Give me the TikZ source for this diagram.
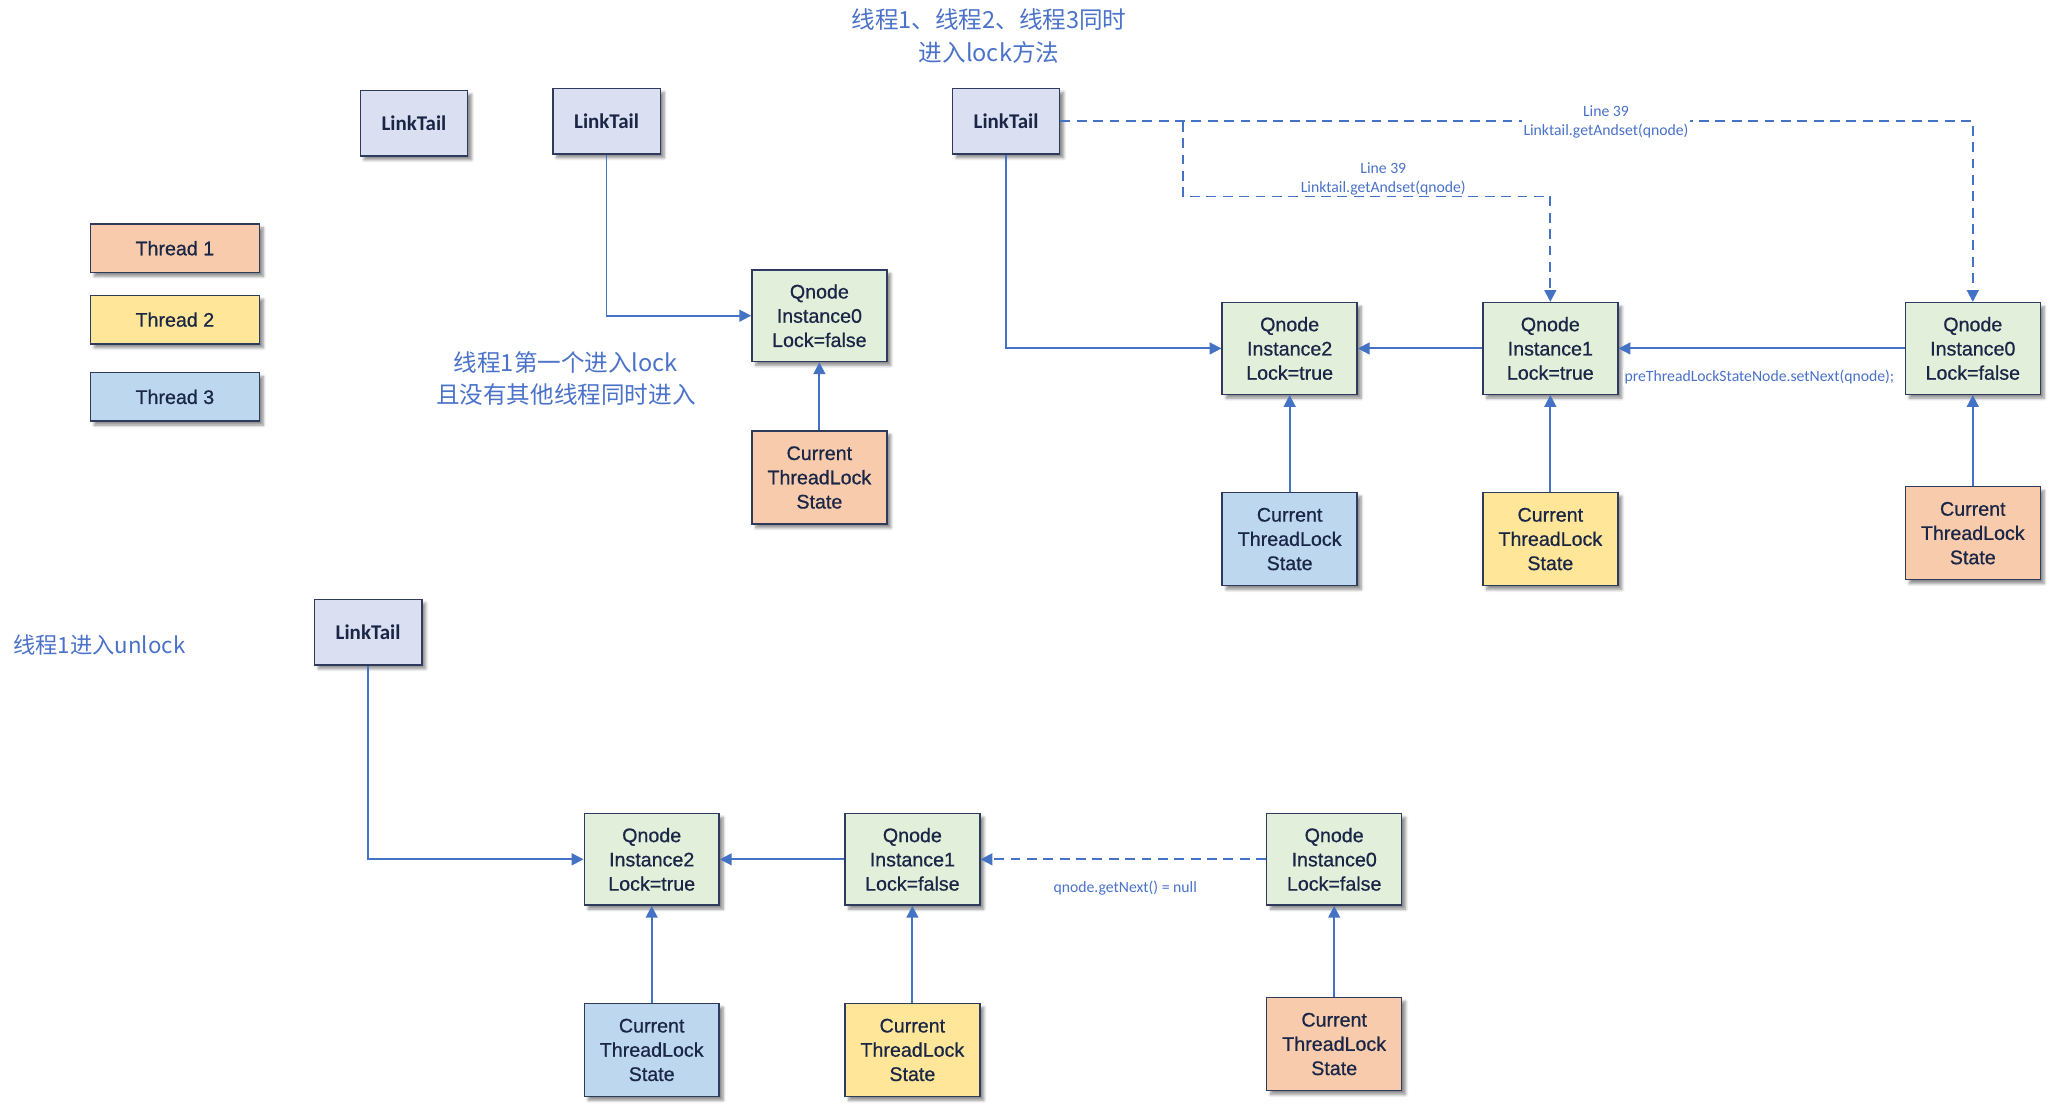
\documentclass[tikz,border=0pt]{standalone}
\usepackage{fontspec}
\setmainfont{Liberation Sans}
\newfontfamily\boxfont{Liberation Sans}[FakeBold=0.7]
\newfontfamily\calfont{Carlito}
\newfontfamily\cjk{Noto Sans CJK SC}
\usetikzlibrary{arrows.meta,shadows.blur}
\definecolor{bordc}{HTML}{2F3B5E}
\definecolor{txtc}{HTML}{1A2646}
\definecolor{arrc}{HTML}{4472C4}
\definecolor{lblc}{HTML}{4A72C9}
\definecolor{ltfill}{HTML}{DAE0F2}
\definecolor{orfill}{HTML}{F8CBAD}
\definecolor{yefill}{HTML}{FFE699}
\definecolor{blfill}{HTML}{BDD7EE}
\definecolor{grfill}{HTML}{E2EFDA}
\tikzset{
  box/.style={draw=bordc, line width=1.1pt, text=txtc, align=center, inner sep=0pt,
    font=\boxfont\fontsize{15}{18.5}\selectfont,
    blur shadow={shadow xshift=3pt, shadow yshift=-3pt, shadow blur steps=6, shadow opacity=45}},
  qbox/.style={box, fill=grfill, minimum width=103pt, minimum height=70pt},
  cbox/.style={box, minimum width=103pt, minimum height=71pt},
  ltbox/.style={box, fill=ltfill, minimum width=82pt, minimum height=50pt, font=\calfont\bfseries\fontsize{16}{18}\selectfont},
  thbox/.style={box, minimum width=129pt, minimum height=37pt},
  arr/.style={draw=arrc, line width=1.5pt, -{Triangle[length=9pt,width=9pt]}},
  dsh/.style={arr, dash pattern=on 7.5pt off 5pt},
  cjklbl/.style={text=lblc, font=\cjk\fontsize{18}{24.5}\selectfont, align=center, inner sep=0pt},
  small/.style={text=lblc, font=\calfont\fontsize{12}{14.5}\selectfont, align=center, inner sep=1pt}
}
\begin{document}
\begin{tikzpicture}[x=1pt,y=-1pt]
\useasboundingbox (0,0) rectangle (1568,847);
% ---------- title ----------
\node[cjklbl] (title) at (755,27.5) {线程1、线程2、线程3同时\\进入lock方法};
% ---------- legend ----------
\node[ltbox] (ltA) at (316,94) {LinkTail};
\node[thbox, fill=orfill] (th1) at (133.5,189.5) {Thread 1};
\node[thbox, fill=yefill] (th2) at (133.5,244) {Thread 2};
\node[thbox, fill=blfill] (th3) at (133.5,303) {Thread 3};
% ---------- panel 1 ----------
\node[ltbox] (ltB) at (463,92.5) {LinkTail};
\node[qbox] (p1q0) at (625.5,241) {Qnode\\Instance0\\Lock=false};
\node[cbox, fill=orfill] (p1c0) at (625.5,364.5) {Current\\ThreadLock\\State};
\node[cjklbl] (p1txt) at (432,289) {线程1第一个进入lock\\且没有其他线程同时进入};
\draw[arr] (ltB.south) |- (p1q0.west);
\draw[arr] (p1c0.north) -- (p1q0.south);
% ---------- panel 2 ----------
\node[ltbox] (ltC) at (768,92.5) {LinkTail};
\node[qbox] (p2q2) at (984.5,266) {Qnode\\Instance2\\Lock=true};
\node[qbox] (p2q1) at (1183.5,266) {Qnode\\Instance1\\Lock=true};
\node[qbox] (p2q0) at (1506,266) {Qnode\\Instance0\\Lock=false};
\node[cbox, fill=blfill] (p2c2) at (984.5,411.5) {Current\\ThreadLock\\State};
\node[cbox, fill=yefill] (p2c1) at (1183.5,411.5) {Current\\ThreadLock\\State};
\node[cbox, fill=orfill] (p2c0) at (1506,407) {Current\\ThreadLock\\State};
\draw[arr] (ltC.south) |- (p2q2.west);
\draw[arr] (p2q1.west) -- (p2q2.east);
\draw[arr] (p2q0.west) -- (p2q1.east);
\draw[arr] (p2c2.north) -- (p2q2.south);
\draw[arr] (p2c1.north) -- (p2q1.south);
\draw[arr] (p2c0.north) -- (p2q0.south);
\draw[dsh] (ltC.east) -| (p2q0.north);
\coordinate (br) at (903,93);
\draw[dsh] (br) -- ++(0,57) -| (p2q1.north);
\node[small, fill=white] (lbl1) at (1226,93) {Line 39\\Linktail.getAndset(qnode)};
\node[small, fill=white] (lbl2) at (1056,136.5) {Line 39\\Linktail.getAndset(qnode)};
\node[small, anchor=west, fill=white] (lbl3) at (1239,288) {preThreadLockStateNode.setNext(qnode);};
% ---------- panel 3 ----------
\node[cjklbl, anchor=west, font=\cjk\fontsize{17}{22}\selectfont] (p3txt) at (10,492) {线程1进入unlock};
\node[ltbox] (ltD) at (281,482.5) {LinkTail};
\node[qbox] (p3q2) at (497.5,656) {Qnode\\Instance2\\Lock=true};
\node[qbox] (p3q1) at (696.5,656) {Qnode\\Instance1\\Lock=false};
\node[qbox] (p3q0) at (1018.5,656) {Qnode\\Instance0\\Lock=false};
\node[cbox, fill=blfill] (p3c2) at (497.5,801.5) {Current\\ThreadLock\\State};
\node[cbox, fill=yefill] (p3c1) at (696.5,801.5) {Current\\ThreadLock\\State};
\node[cbox, fill=orfill] (p3c0) at (1018.5,797) {Current\\ThreadLock\\State};
\draw[arr] (ltD.south) |- (p3q2.west);
\draw[arr] (p3q1.west) -- (p3q2.east);
\draw[dsh] (p3q0.west) -- (p3q1.east);
\draw[arr] (p3c2.north) -- (p3q2.south);
\draw[arr] (p3c1.north) -- (p3q1.south);
\draw[arr] (p3c0.north) -- (p3q0.south);
\node[small] (lbl4) at (859,678) {qnode.getNext() = null};
\end{tikzpicture}
\end{document}
